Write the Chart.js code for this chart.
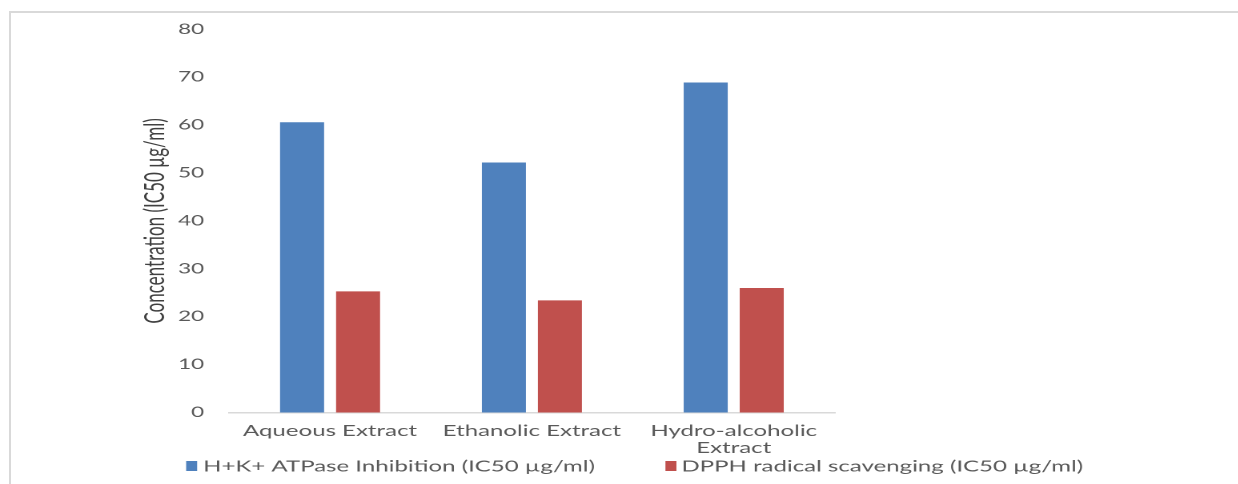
<!DOCTYPE html>
<html>
<head>
<meta charset="utf-8">
<script src="https://cdn.jsdelivr.net/npm/chart.js@4.4.1/dist/chart.umd.min.js"></script>
<style>
  html, body { margin: 0; padding: 0; background: #fff; width: 1238px; height: 484px; overflow: hidden; }
  #frame { position: absolute; left: 9px; top: 11px; width: 1300px; height: 600px;
           border-left: 2px solid #d9d9d9; border-top: 2px solid #d9d9d9; }
  #wrap { position: absolute; left: 0; top: 0; height: 484px; transform-origin: 0 0; }
</style>
</head>
<body>
<div id="frame"></div>
<div id="wrap"><canvas id="c"></canvas></div>
<script>
// Extracts and their IC50 values (µg/ml)
const categories = ['Aqueous Extract', 'Ethanolic Extract', ['Hydro-alcoholic', 'Extract']];
const atpaseIC50 = [60.6, 52.2, 68.9];
const dpphIC50 = [25.3, 23.4, 26.0];
const seriesNames = ['H+K+ ATPase Inhibition (IC50 µg/ml)', 'DPPH radical scavenging (IC50 µg/ml)'];
const yMin = 0, yMax = 80, yStep = 10;

// The figure is drawn narrow and widened horizontally, giving the broad lettering.
const S = 1.6;
const PAGE_W = 1238, PAGE_H = 484;
const W = PAGE_W / S;
const X = v => v / S;

const wrap = document.getElementById('wrap');
wrap.style.width = W + 'px';
wrap.style.transform = 'scaleX(' + S + ')';

const FONT = 'Lato, "Open Sans", sans-serif';
const GREY = '#595959';

const plotLeft = 229, plotRight = 834, plotTop = 29.3, plotBottom = 412.5;

// Legend drawn along the bottom of the frame
const legendPlugin = {
  id: 'bottomLegend',
  afterDraw(chart) {
    const ctx = chart.ctx;
    const boxes = [186, 665];
    const texts = [203, 681];
    ctx.save();
    ctx.font = '15px ' + FONT;
    ctx.textBaseline = 'middle';
    ctx.textAlign = 'left';
    chart.data.datasets.forEach((ds, i) => {
      ctx.fillStyle = ds.backgroundColor;
      ctx.fillRect(X(boxes[i]), 461, X(11), 10);
      ctx.fillStyle = GREY;
      ctx.fillText(ds.label, X(texts[i]), 466.5);
    });
    ctx.restore();
  }
};

new Chart(document.getElementById('c'), {
  type: 'bar',
  data: {
    labels: categories,
    datasets: [
      { label: seriesNames[0], data: atpaseIC50, backgroundColor: '#4f81bd',
        barPercentage: 0.786, categoryPercentage: 0.555 },
      { label: seriesNames[1], data: dpphIC50, backgroundColor: '#c0504d',
        barPercentage: 0.786, categoryPercentage: 0.555 }
    ]
  },
  options: {
    responsive: true,
    maintainAspectRatio: false,
    animation: false,
    devicePixelRatio: 2,
    layout: { padding: { left: 0, top: plotTop, right: W - X(plotRight), bottom: 0 } },
    plugins: { legend: { display: false }, tooltip: { enabled: false } },
    scales: {
      x: {
        grid: { display: false, drawTicks: false },
        border: { display: true, color: '#d9d9d9', width: 1.5 },
        ticks: { color: GREY, font: { family: FONT, size: 15, lineHeight: 1.15 }, padding: 10, maxRotation: 0, autoSkip: false },
        afterFit(scale) { scale.height = PAGE_H - plotBottom; }
      },
      y: {
        min: yMin, max: yMax,
        grid: { display: false, drawTicks: false },
        border: { display: false },
        ticks: { stepSize: yStep, color: GREY, font: { family: FONT, size: 14 }, padding: X(plotLeft - 204) },
        title: { display: true, text: 'Concentration (IC50 µg/ml)', color: '#404040',
                 font: { family: FONT, size: 17 }, padding: { top: X(155) - 10.2, bottom: 0 } },
        afterFit(scale) { scale.width = X(plotLeft); }
      }
    }
  },
  plugins: [legendPlugin]
});
</script>
</body>
</html>
